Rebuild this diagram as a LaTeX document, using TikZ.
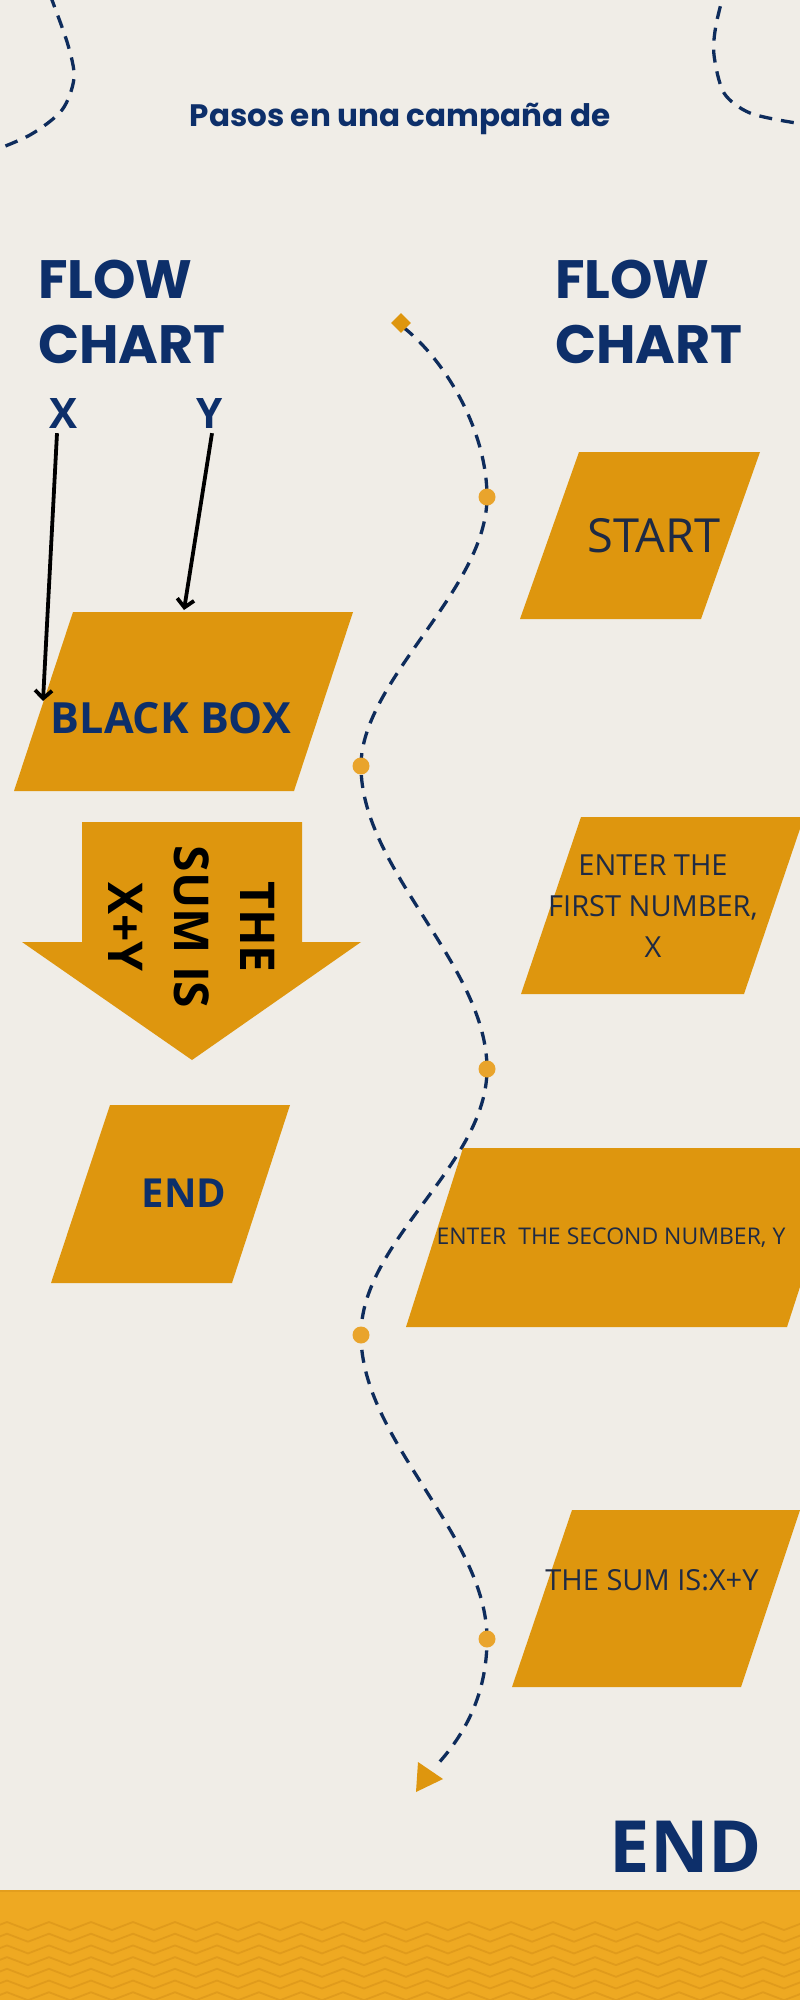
\documentclass[tikz,border=0pt]{standalone}
\usepackage{fontspec}
\setmainfont{Open Sans}
\newfontfamily\headfont{Poppins}
\usetikzlibrary{arrows.meta}
\definecolor{bg}{HTML}{F0EDE7}
\definecolor{boxc}{HTML}{DE960E}
\definecolor{navy}{HTML}{0D2F6A}
\definecolor{ink}{HTML}{1E2A44}
\definecolor{dotc}{HTML}{E9A42C}
\definecolor{bandc}{HTML}{EEA922}
\definecolor{zigc}{HTML}{E09B1C}
\definecolor{linec}{HTML}{0E2C5C}
\tikzset{
  snakeline/.style={draw=linec, line width=3.3pt, dash pattern=on 13pt off 9pt},
  para/.style={fill=boxc},
  head/.style={text=navy, font=\headfont\bfseries\fontsize{54}{60}\selectfont, inner sep=0pt},
  lbl/.style={text=navy, font=\bfseries\fontsize{42}{50}\selectfont, inner sep=0pt},
  boxtxt/.style={text=ink, inner sep=0pt, align=center},
  inarrow/.style={draw=black, line width=3.8pt, -{Straight Barb[length=8pt,width=17pt]}},
  dotmark/.style={fill=dotc},
  zigline/.style={draw=zigc, line width=1.8pt, line join=round}
}
\begin{document}
\begin{tikzpicture}[x=1pt,y=-1pt]
\useasboundingbox (0,0) rectangle (800,2000);
\clip (0,0) rectangle (800,2000);
\fill[bg] (0,0) rectangle (800,2000);

% decorative corner curves
\draw[snakeline] plot[smooth] coordinates {(-15,154) (30,135) (62,110) (74,78) (68,45) (52,0) (46,-15)};
\draw[snakeline] plot[smooth] coordinates {(726,-15) (716,25) (714,55) (724,93) (750,113) (796,123) (815,124)};

% title
\node[text=navy, font=\headfont\bfseries\fontsize{31}{37}\selectfont, inner sep=0pt, anchor=base] (title) at (400,126) {Pasos en una campaña de};

\node[head, anchor=base west] (flowL) at (38,298) {FLOW};
\node[head, anchor=base west] (chartL) at (38,363) {CHART};
\node[head, anchor=base west] (flowR) at (555,298) {FLOW};
\node[head, anchor=base west] (chartR) at (555,363) {CHART};

% snake path
\coordinate (s0) at (403,327);
\coordinate (p1) at (487,497);
\coordinate (p2) at (361,766);
\coordinate (p3) at (487,1069);
\coordinate (p4) at (361,1335);
\coordinate (p5) at (487,1639);
\coordinate (s6) at (435,1767);
\draw[snakeline] (s0) .. controls (445,360) and (487,430) .. (p1)
  .. controls (487,590) and (361,680) .. (p2)
  .. controls (361,870) and (487,965) .. (p3)
  .. controls (487,1165) and (361,1240) .. (p4)
  .. controls (361,1440) and (487,1535) .. (p5)
  .. controls (487,1700) and (460,1740) .. (s6);
\fill[boxc, rotate around={45:(401,323)}] (394,316) rectangle (408,330);
\fill[boxc] (418,1762) -- (443,1779) -- (416,1792) -- cycle;
\foreach \p in {p1,p2,p3,p4,p5} \fill[dotmark] (\p) circle (8.5);

% left column
\node[lbl, anchor=base] (X) at (64,428) {X};
\node[lbl, anchor=base] (Y) at (210,428) {Y};
\fill[para] (73,612) -- (353,612) -- (294,791) -- (14,791) -- cycle;
\node[lbl, font=\bfseries\fontsize{43}{50}\selectfont, anchor=base] (bb) at (171,733) {BLACK BOX};
\coordinate (bbx) at (43,701);
\coordinate (bby) at (184,610);
\draw[inarrow] ([xshift=-7pt,yshift=-5pt]X.south) -- (bbx);
\draw[inarrow] ([xshift=2pt,yshift=-5pt]Y.south) -- (bby);

\fill[para] (82,822) -- (302,822) -- (302,942) -- (361,942) -- (192,1060) -- (22,942) -- (82,942) -- cycle;
\node[text=black, font=\bfseries\fontsize{48}{66}\selectfont, align=center, rotate=-90, inner sep=0pt] (sum) at (192,927) {THE\\SUM IS\\X+Y};

\fill[para] (110,1105) -- (290,1105) -- (232,1283) -- (51,1283) -- cycle;
\node[lbl, font=\bfseries\fontsize{40}{48}\selectfont, anchor=base] (endL) at (184,1207) {END};

% right column
\fill[para] (579,452) -- (760,452) -- (701,619) -- (520,619) -- cycle;
\node[boxtxt, font=\fontsize{47}{56}\selectfont, anchor=base] (start) at (654,552) {START};

\fill[para] (581,817) -- (804,817) -- (744,994) -- (521,994) -- cycle;
\node[boxtxt, font=\fontsize{29}{41}\selectfont] (first) at (653,906) {ENTER THE\\FIRST NUMBER,\\X};

\fill[para] (463,1148) -- (845,1148) -- (787,1327) -- (406,1327) -- cycle;
\node[boxtxt, font=\fontsize{23}{28}\selectfont] (second) at (611,1238) {ENTER\ \ THE SECOND NUMBER, Y};

\fill[para] (572,1510) -- (800,1510) -- (741,1687) -- (512,1687) -- cycle;
\node[boxtxt, font=\fontsize{29}{35}\selectfont] (sumis) at (652,1580) {THE SUM IS:X+Y};

\node[text=navy, font=\bfseries\fontsize{72}{80}\selectfont, inner sep=0pt, anchor=base] (endR) at (686,1872) {END};

% bottom band
\fill[bandc] (0,1890) rectangle (800,2000);
\draw[draw=zigc!80!bandc, line width=2pt] (0,1891) -- (800,1891);
\foreach \r in {0,...,6} {
  \draw[zigline] (-14,1930+11.7*\r) \foreach \k in {0,...,20} { -- ++(21,-8) -- ++(21,8) };
}
\end{tikzpicture}
\end{document}
